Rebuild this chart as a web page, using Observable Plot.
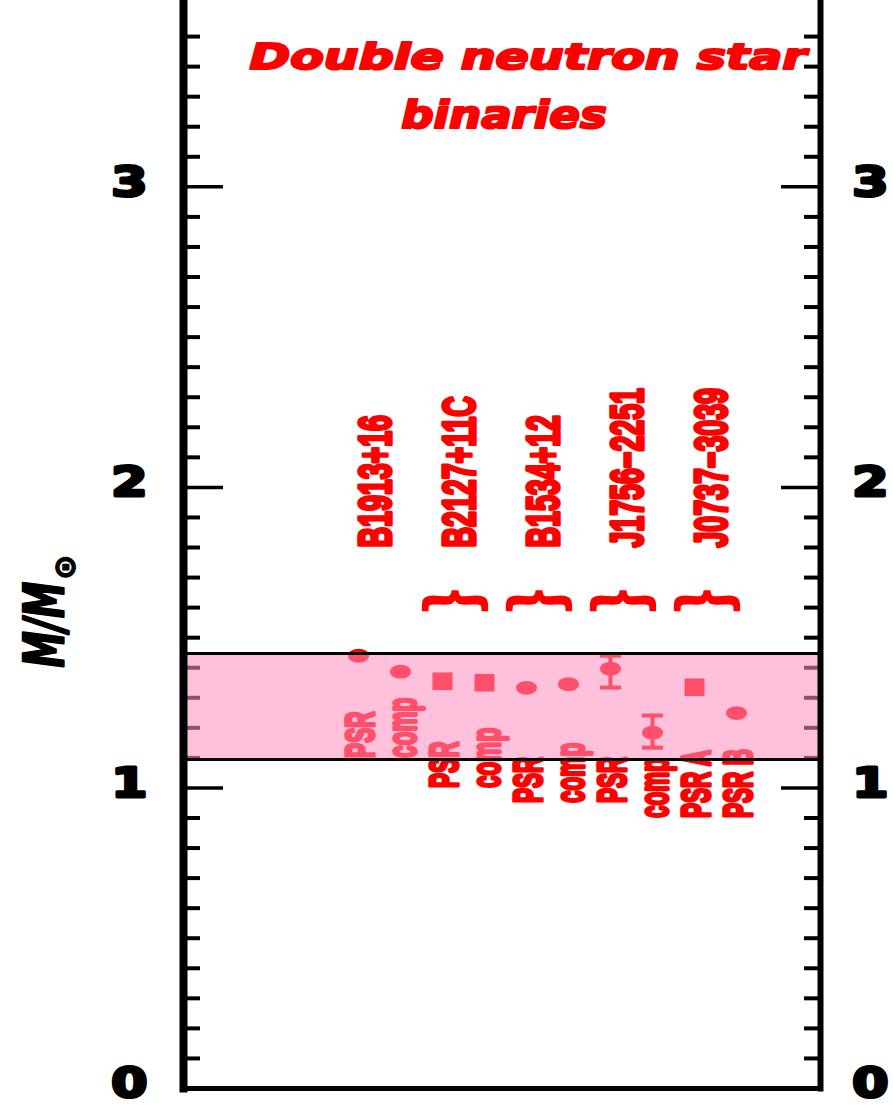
<!DOCTYPE html>
<html><head><meta charset="utf-8">
<script src="https://cdn.jsdelivr.net/npm/d3@7"></script>
<script src="https://cdn.jsdelivr.net/npm/@observablehq/plot@0.6"></script>
<style>html,body{margin:0;padding:0;background:#fff;}</style>
</head><body>
<div id="chart"></div>
<script>
// ---- data ----
const majorTicks = [0, 1, 2, 3];
const minorTicks = [0.1,0.2,0.3,0.4,0.5,0.6,0.7,0.8,0.9,1.1,1.2,1.3,1.4,1.5,1.6,1.7,1.8,1.9,2.1,2.2,2.3,2.4,2.5,2.6,2.7,2.8,2.9,3.1,3.2,3.3,3.4,3.5];
const systems = ["B1913+16", "B2127+11C", "B1534+12", "J1756\u22122251", "J0737\u22123039"];
const nameX = [1.8, 3.8, 5.8, 7.8, 9.8];
const nameY = [1.80, 1.80, 1.80, 1.80, 1.80];
const braceX = [3.3, 5.3, 7.3, 9.3];
const braceY = [1.62, 1.62, 1.62, 1.62];
const starX = [1, 2, 3, 4, 5, 6, 7, 8, 9, 10];
const starMass = [1.440, 1.387, 1.355, 1.350, 1.333, 1.345, 1.397, 1.184, 1.335, 1.249];
const starShape = ["circle","circle","square","square","circle","circle","circle","circle","square","circle"];
const starLabel = ["PSR","comp","PSR","comp","PSR","comp","PSR","comp","PSR A","PSR B"];
const starLabelY = [1.10, 1.10, 1.00, 1.00, 0.95, 0.95, 0.95, 0.90, 0.90, 0.90];
const errX = [7, 8];
const errLo = [1.334, 1.134];
const errHi = [1.440, 1.241];
const bandLo = 1.095;
const bandHi = 1.447;
const titleLines = ["Double neutron star", "binaries"];

// ---- tables ----
const stars = starX.map((x, i) => ({x, m: starMass[i], shape: starShape[i], label: starLabel[i], ly: starLabelY[i]}));
const names = systems.map((s, i) => ({s, x: nameX[i], y: nameY[i]}));
const braces = braceX.map((x, i) => ({x, y: braceY[i]}));
const errs = errX.map((x, i) => ({x, lo: errLo[i], hi: errHi[i]}));
const caps = errs.flatMap(d => [{x: d.x, y: d.lo}, {x: d.x, y: d.hi}]);

// ---- symbols ----
const ellipse = {draw(ctx, size) {
  const r = Math.sqrt(size / Math.PI), rx = r, ry = r * 0.66, k = 0.5523;
  ctx.moveTo(rx, 0);
  ctx.bezierCurveTo(rx, ry * k, rx * k, ry, 0, ry);
  ctx.bezierCurveTo(-rx * k, ry, -rx, ry * k, -rx, 0);
  ctx.bezierCurveTo(-rx, -ry * k, -rx * k, -ry, 0, -ry);
  ctx.bezierCurveTo(rx * k, -ry, rx, -ry * k, rx, 0);
  ctx.closePath();
}};
const box = {draw(ctx, size) {
  const r = Math.sqrt(size / Math.PI), h = r * 0.88;
  ctx.moveTo(-r, -h); ctx.lineTo(r, -h); ctx.lineTo(r, h); ctx.lineTo(-r, h); ctx.closePath();
}};
const hline = {draw(ctx, size) {
  const r = Math.sqrt(size / Math.PI);
  ctx.moveTo(-r, 0); ctx.lineTo(r, 0);
}};

const RED = "#ff0000";
const fmt = d => String(d);

const chart = Plot.plot({
  width: 893,
  height: 1105,
  marginLeft: 183,
  marginRight: 73,
  marginTop: 0,
  marginBottom: 17,
  x: {domain: [-3.1667, 12], axis: null},
  y: {domain: [0, 3.62], axis: null},
  marks: [
    // ticks (inward)
    Plot.axisY(minorTicks, {anchor: "left", tickSize: -17, strokeWidth: 4, fill: "none", label: null}),
    Plot.axisY(majorTicks, {anchor: "left", tickSize: -40, strokeWidth: 3.5, fill: "none", label: null}),
    Plot.axisY(minorTicks, {anchor: "right", tickSize: -17, strokeWidth: 4, fill: "none", label: null}),
    Plot.axisY(majorTicks, {anchor: "right", tickSize: -40, strokeWidth: 3.5, fill: "none", label: null}),
    // error bars
    Plot.ruleX(errs, {x: "x", y1: "lo", y2: "hi", stroke: RED, strokeWidth: 4}),
    Plot.dot(caps, {x: "x", y: "y", r: 10.5, symbol: hline, stroke: RED, strokeWidth: 4}),
    // points
    Plot.dot(stars.filter(d => d.shape === "circle"), {x: "x", y: "m", r: 10.5, symbol: ellipse, fill: RED, stroke: "none"}),
    Plot.dot(stars.filter(d => d.shape === "square"), {x: "x", y: "m", r: 10, symbol: box, fill: RED, stroke: "none"}),
    // PSR / comp labels
    Plot.text(stars, {x: "x", y: "ly", text: "label", rotate: -90, textAnchor: "start", lineAnchor: "bottom", dx: 15,
      fill: RED, stroke: RED, strokeWidth: 3.5, strokeLinejoin: "round", fontFamily: "Liberation Sans", fontWeight: "bold", fontSize: 41}),
    // system names
    Plot.text(names, {x: "x", y: "y", text: "s", rotate: -90, textAnchor: "start", lineAnchor: "bottom", dx: -1,
      fill: RED, stroke: RED, strokeWidth: 3.5, strokeLinejoin: "round", fontFamily: "Liberation Sans", fontWeight: "bold", fontSize: 46}),
    // braces (over-brace glyph)
    Plot.text(braces, {x: "x", y: "y", text: () => "\uFE37", textAnchor: "middle", lineAnchor: "middle", dy: -19,
      fill: RED, stroke: RED, strokeWidth: 1.5, strokeLinejoin: "round", fontFamily: "Noto Sans CJK SC", fontWeight: "bold", fontSize: 68}),
    // title
    Plot.text([titleLines[0]], {text: d => d, frameAnchor: "top", dx: 26, dy: 57, textAnchor: "middle", lineAnchor: "middle",
      fill: RED, stroke: RED, strokeWidth: 2.2, strokeLinejoin: "round", fontFamily: "DejaVu Sans", fontWeight: "bold", fontStyle: "italic", fontSize: 36}),
    Plot.text([titleLines[1]], {text: d => d, frameAnchor: "top", dx: 2, dy: 116, textAnchor: "middle", lineAnchor: "middle",
      fill: RED, stroke: RED, strokeWidth: 2.2, strokeLinejoin: "round", fontFamily: "DejaVu Sans", fontWeight: "bold", fontStyle: "italic", fontSize: 37}),
    // band overlay
    Plot.rect([{lo: bandLo, hi: bandHi}], {y1: "lo", y2: "hi", fill: "rgb(255,143,190)", fillOpacity: 0.56}),
    Plot.ruleY([bandLo, bandHi], {stroke: "black", strokeWidth: 3}),
    // frame
    Plot.frame({anchor: "left", stroke: "black", strokeWidth: 8}),
    Plot.frame({anchor: "right", stroke: "black", strokeWidth: 6}),
    Plot.frame({anchor: "bottom", stroke: "black", strokeWidth: 5}),
    // tick labels
    Plot.axisY(majorTicks, {anchor: "left", tickSize: 0, tickPadding: 36, tickFormat: fmt, dy: -4, fontSize: 40, fontWeight: "bold", fontFamily: "DejaVu Sans",
      fill: "black", textStroke: "black", textStrokeWidth: 3, label: null}),
    Plot.axisY(majorTicks, {anchor: "right", tickSize: 0, tickPadding: 68, tickFormat: fmt, dy: -4, textAnchor: "end", fontSize: 40, fontWeight: "bold", fontFamily: "DejaVu Sans",
      fill: "black", textStroke: "black", textStrokeWidth: 3, label: null}),
    // y label
    Plot.text(["M/M"], {text: d => d, frameAnchor: "left", dx: -121, dy: 123, rotate: -90, textAnchor: "start", lineAnchor: "bottom",
      fill: "black", stroke: "black", strokeWidth: 2.5, strokeLinejoin: "round", fontFamily: "DejaVu Sans", fontWeight: "bold", fontStyle: "italic", fontSize: 56})
  ]
});
document.getElementById("chart").append(chart);

function squeeze(size, f) {
  d3.select(chart).selectAll(`g[font-size="${size}"] text`).each(function () {
    const L = this.getComputedTextLength();
    this.setAttribute("textLength", L * f);
    this.setAttribute("lengthAdjust", "spacingAndGlyphs");
  });
}
squeeze(41, 0.55);   // PSR / comp
squeeze(46, 0.62);   // system names
squeeze(36, 1.36);   // title line 1
squeeze(37, 1.22);   // title line 2
squeeze(40, 1.3);    // tick labels

// y label with subscript sun symbol
d3.select(chart).selectAll('g[font-size="56"] text').each(function () {
  const L = this.getComputedTextLength();
  const t = d3.select(this);
  t.text(null);
  t.append("tspan").text("M/M").attr("textLength", L * 0.65).attr("lengthAdjust", "spacingAndGlyphs");
  t.append("tspan").text("\u2299").attr("font-size", 30).attr("font-style", "normal").attr("stroke-width", 1.5).attr("dy", 12).attr("dx", 2);
});
</script>
</body></html>
